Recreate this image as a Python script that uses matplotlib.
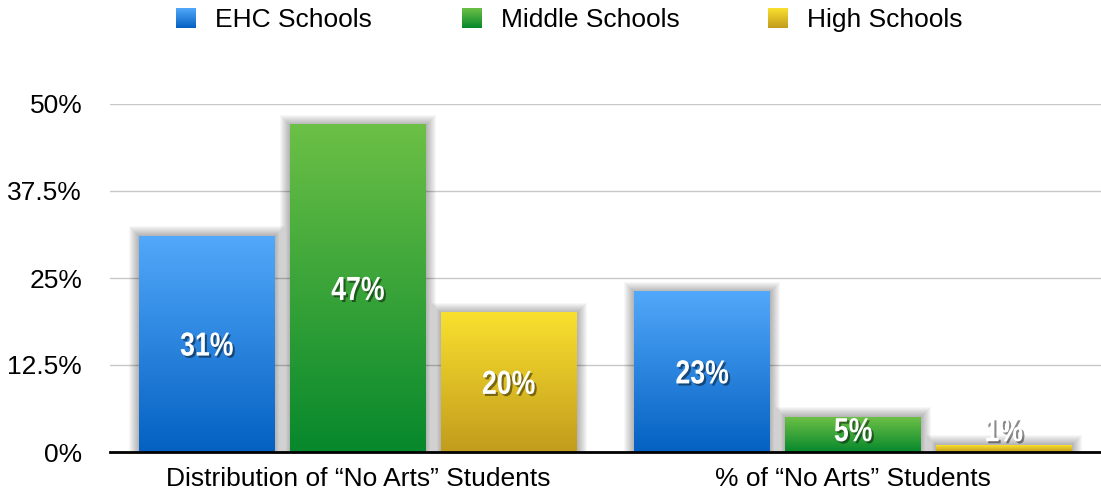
import numpy as np
import matplotlib
matplotlib.use("Agg")
import matplotlib.pyplot as plt
import matplotlib.patheffects as pe
import matplotlib.transforms as mtransforms
from matplotlib.patches import Rectangle, PathPatch
from matplotlib.textpath import TextPath
from matplotlib.font_manager import FontProperties
from matplotlib.colors import LinearSegmentedColormap

# ── data ──────────────────────────────────────────────
categories = ["Distribution of \u201cNo Arts\u201d Students", "% of \u201cNo Arts\u201d Students"]
series = ["EHC Schools", "Middle Schools", "High Schools"]
ehc = [31, 23]
middle = [47, 5]
high = [20, 1]
yticks = [0, 12.5, 25, 37.5, 50]
ytick_labels = ["0%", "12.5%", "25%", "37.5%", "50%"]

# gradient colours (top, bottom)
grads = [("#52a8fa", "#0461c2"), ("#6cc046", "#07882c"), ("#f9e02e", "#c29c1d")]

plt.rcParams["font.family"] = ["Liberation Sans", "DejaVu Sans"]

fig = plt.figure(figsize=(11.01, 4.96), dpi=100)
ax = fig.add_axes([110 / 1101, 44 / 496, 991 / 1101, 348 / 496])
ax.set_xlim(-0.5, 1.5)
ax.set_ylim(0, 50)

px_x = 1 / 495.5          # one pixel in x data units
px_y = 50 / 348           # one pixel in y data units
width = 136 * px_x
step = 151 * px_x

label_font = FontProperties(family="Liberation Sans", weight="bold")


def condensed_label(xc, yc, s):
    # bold label squeezed horizontally, like the narrow font of the original
    tp = TextPath((0, 0), s, size=24, prop=label_font)
    ext = tp.get_extents()
    cx, cy = (ext.x0 + ext.x1) / 2, (ext.y0 + ext.y1) / 2
    tr = (mtransforms.Affine2D().translate(-cx, -cy).scale(0.8, 1).scale(fig.dpi / 72)
          + mtransforms.ScaledTranslation(xc, yc, ax.transData))
    p = PathPatch(tp, transform=tr, facecolor="white", edgecolor="none", zorder=5,
                  path_effects=[pe.SimplePatchShadow(offset=(1.5, -1.5), shadow_rgbFace="black",
                                                     alpha=0.45), pe.Normal()])
    ax.add_patch(p)


x = np.arange(len(categories))
for i, (vals, (top, bot)) in enumerate(zip([ehc, middle, high], grads)):
    cmap = LinearSegmentedColormap.from_list(f"g{i}", [bot, top])
    xs = x + (i - 1) * step
    bars = ax.bar(xs, vals, width=width, color="none", zorder=3)
    for b, v in zip(bars, vals):
        x0, w, h = b.get_x(), b.get_width(), b.get_height()
        # soft shadow
        for k in range(1, 11):
            ax.add_patch(Rectangle((x0 - k * px_x, 0), w + 2 * k * px_x,
                                   h + k * px_y, color="black",
                                   alpha=0.03, lw=0, zorder=2))
        grad = np.linspace(0, 1, 256).reshape(-1, 1)
        ax.imshow(grad, extent=[x0, x0 + w, 0, h], origin="lower", aspect="auto",
                  cmap=cmap, zorder=3)
        condensed_label(x0 + w / 2, max(h / 2, 3.2), f"{v}%")

ax.set_xlim(-0.5, 1.5)
ax.set_ylim(0, 50)
ax.set_yticks(yticks)
ax.set_yticklabels(ytick_labels)
ax.set_xticks(x)
ax.set_xticklabels(categories)
ax.tick_params(axis="y", length=0, pad=20, labelsize=19)
ax.tick_params(axis="x", length=0, pad=11, labelsize=19)
ax.yaxis.grid(True, color="#c8c8c8", lw=1)
ax.set_axisbelow(True)
for s in ["left", "right", "top"]:
    ax.spines[s].set_visible(False)
ax.spines["bottom"].set_linewidth(2)
ax.spines["bottom"].set_zorder(6)

# ── legend ───────────────────────────────────────────
leg_x = [176, 462, 768]
for lx, name, (top, bot) in zip(leg_x, series, grads):
    sq = fig.add_axes([lx / 1101, (496 - 28) / 496, 20 / 1101, 20 / 496])
    cmap = LinearSegmentedColormap.from_list("l", [bot, top])
    sq.imshow(np.linspace(0, 1, 64).reshape(-1, 1), origin="lower", aspect="auto", cmap=cmap)
    sq.axis("off")
    fig.text((lx + 39) / 1101, 1 - 27 / 496, name, fontsize=19, va="baseline", ha="left")

fig.savefig("out.png", dpi=100)
